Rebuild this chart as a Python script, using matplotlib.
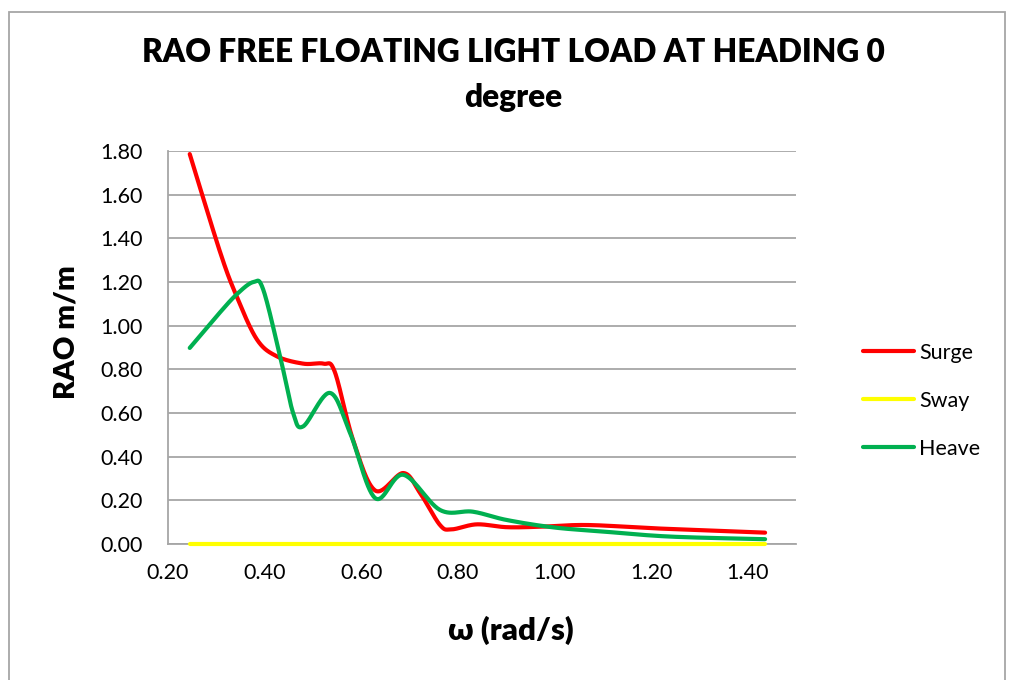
import numpy as np
import matplotlib
matplotlib.use('Agg')
import matplotlib.pyplot as plt
from matplotlib.patches import Rectangle

# values
surge_w = [0.245, 0.308, 0.342, 0.384, 0.425, 0.480, 0.522, 0.545, 0.583, 0.629,
           0.687, 0.722, 0.763, 0.787, 0.839, 0.901, 0.970, 1.067, 1.205, 1.343, 1.436]
surge_rao = [1.786, 1.336, 1.135, 0.937, 0.860, 0.826, 0.826, 0.790, 0.477, 0.245,
             0.325, 0.233, 0.087, 0.067, 0.090, 0.077, 0.079, 0.087, 0.072, 0.060, 0.052]

heave_w = [0.245, 0.301, 0.342, 0.377, 0.397, 0.432, 0.459, 0.480, 0.535, 0.577,
           0.629, 0.687, 0.763, 0.831, 0.901, 0.998, 1.101, 1.239, 1.436]
heave_rao = [0.898, 1.044, 1.143, 1.200, 1.166, 0.860, 0.600, 0.539, 0.692, 0.508,
             0.210, 0.317, 0.156, 0.148, 0.110, 0.076, 0.057, 0.034, 0.022]

sway_w = [0.245, 0.50, 0.75, 1.00, 1.25, 1.436]
sway_rao = [0.0, 0.0, 0.0, 0.0, 0.0, 0.0]

xticks = [0.20, 0.40, 0.60, 0.80, 1.00, 1.20, 1.40]
yticks = [0.00, 0.20, 0.40, 0.60, 0.80, 1.00, 1.20, 1.40, 1.60, 1.80]


def smooth(xs, ys, n=30):
    # Excel-style smoothed line: cubic bezier through the points
    p = np.column_stack([xs, ys])
    p = np.vstack([p[0], p, p[-1]])
    out = []
    for i in range(1, len(p) - 2):
        p0, p1, p2, p3 = p[i - 1], p[i], p[i + 1], p[i + 2]
        c1 = p1 + (p2 - p0) / 6
        c2 = p2 - (p3 - p1) / 6
        t = np.linspace(0, 1, n)[:, None]
        seg = ((1 - t) ** 3) * p1 + 3 * ((1 - t) ** 2) * t * c1 + 3 * (1 - t) * t ** 2 * c2 + t ** 3 * p2
        out.append(seg if i == 1 else seg[1:])
    out = np.vstack(out)
    return out[:, 0], out[:, 1]


plt.rcParams['font.family'] = ['Lato', 'DejaVu Sans']

fig = plt.figure(figsize=(10.11, 6.8), dpi=100)
ax = fig.add_axes([168 / 1011, 1 - 544 / 680, (796 - 168) / 1011, (544 - 151) / 680])

ax.plot(*smooth(surge_w, surge_rao), color='#FF0000', lw=3, label='Surge',
        solid_capstyle='round', zorder=3)
ax.plot(*smooth(sway_w, sway_rao), color='#FFFF00', lw=3, label='Sway',
        solid_capstyle='round', zorder=3, clip_on=False)
ax.plot(*smooth(heave_w, heave_rao), color='#00B050', lw=3, label='Heave',
        solid_capstyle='round', zorder=4)

ax.set_xlim(0.2, 1.5)
ax.set_ylim(0, 1.8)
ax.set_xticks(xticks)
ax.set_yticks(yticks)
ax.set_xticklabels(['%.2f' % v for v in xticks])
ax.set_yticklabels(['%.2f' % v for v in yticks])
ax.tick_params(length=0, labelsize=15.5, colors='black')
ax.tick_params(axis='y', pad=18)
ax.tick_params(axis='x', pad=14)

ax.grid(axis='y', color='#A6A6A6', lw=1.3)
ax.set_axisbelow(True)
for s in ['top', 'right']:
    ax.spines[s].set_visible(False)
for s in ['left', 'bottom']:
    ax.spines[s].set_color('#A6A6A6')
    ax.spines[s].set_linewidth(1.3)

fig.text(513 / 1011, 1 - 52 / 680, 'RAO FREE FLOATING LIGHT LOAD AT HEADING 0',
         ha='center', va='center', fontsize=22.8, fontweight='heavy')
fig.text(513 / 1011, 1 - 97 / 680, 'degree',
         ha='center', va='center', fontsize=22.8, fontweight='heavy')
fig.text(511 / 1011, 1 - 630 / 680, 'ω (rad/s)',
         ha='center', va='center', fontsize=22.5, fontweight='heavy')
fig.text(67 / 1011, 1 - 332 / 680, 'RAO m/m', rotation=90,
         ha='center', va='center', fontsize=21, fontweight='heavy')

leg = ax.legend(loc='center left', bbox_to_anchor=(844 / 1011, 1 - 401 / 680),
                bbox_transform=fig.transFigure,
                frameon=False, fontsize=15.5, handlelength=2.35, handletextpad=0.25,
                labelspacing=1.3)

fig.add_artist(Rectangle((9 / 1011, -0.1), (1005 - 9) / 1011, 1.1 - 12 / 680,
                         transform=fig.transFigure, fill=False, edgecolor='#A6A6A6', lw=1.3))

fig.savefig('out.png', dpi=100)
